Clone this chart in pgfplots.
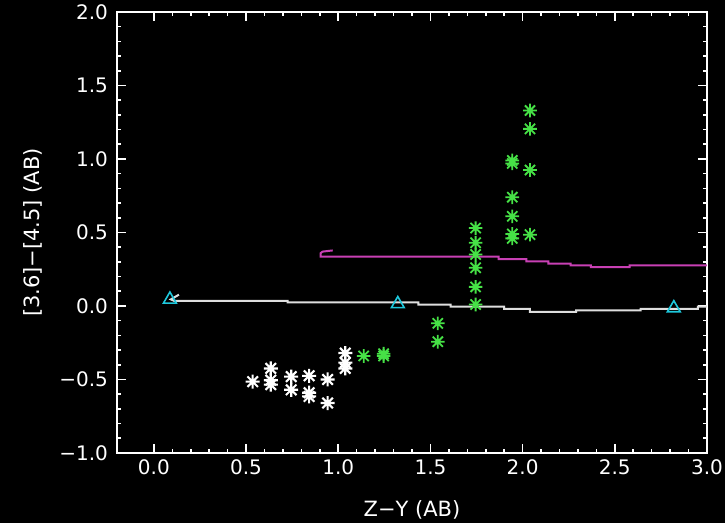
\documentclass[border=0pt]{standalone}
\usepackage{pgfplots}
\pgfplotsset{compat=1.18}
\usepackage{fontspec}
\setmainfont{DejaVu Sans}

\definecolor{trackgray}{RGB}{222,222,222}
\definecolor{trackmag}{RGB}{200,64,180}
\definecolor{stargreen}{RGB}{70,225,70}
\definecolor{tricyan}{RGB}{30,200,220}

% eight-armed asterisk
\pgfdeclareplotmark{ast8}{%
  \pgfpathmoveto{\pgfqpoint{-\pgfplotmarksize}{0pt}}%
  \pgfpathlineto{\pgfqpoint{\pgfplotmarksize}{0pt}}%
  \pgfpathmoveto{\pgfqpoint{0pt}{-\pgfplotmarksize}}%
  \pgfpathlineto{\pgfqpoint{0pt}{\pgfplotmarksize}}%
  \pgfpathmoveto{\pgfqpoint{-0.75\pgfplotmarksize}{-0.75\pgfplotmarksize}}%
  \pgfpathlineto{\pgfqpoint{0.75\pgfplotmarksize}{0.75\pgfplotmarksize}}%
  \pgfpathmoveto{\pgfqpoint{-0.75\pgfplotmarksize}{0.75\pgfplotmarksize}}%
  \pgfpathlineto{\pgfqpoint{0.75\pgfplotmarksize}{-0.75\pgfplotmarksize}}%
  \pgfusepathqstroke}

\begin{document}
\begin{tikzpicture}
\fill[black] (-58.5pt,-35pt) rectangle (304pt,226.5pt);
\begin{axis}[
  scale only axis,
  width=295pt, height=220.5pt,
  xmin=-0.2, xmax=3, ymin=-1, ymax=2,
  xtick={0,0.5,1,1.5,2,2.5,3},
  xticklabels={0.0,0.5,1.0,1.5,2.0,2.5,3.0},
  ytick={-1,-0.5,0,0.5,1,1.5,2},
  yticklabels={−1.0,−0.5,0.0,0.5,1.0,1.5,2.0},
  minor x tick num=4, minor y tick num=4,
  major tick length=4.5pt, minor tick length=2.2pt,
  axis line style={white, line width=1pt},
  tick style={white, line width=0.8pt},
  ticklabel style={white, font=\fontsize{10}{12}\selectfont},
  yticklabel style={xshift=-1pt},
  label style={white, font=\fontsize{10.5}{12}\selectfont},
  xlabel={Z−Y (AB)},
  ylabel={[3.6]−[4.5] (AB)},
  xlabel style={at={(axis description cs:0.5,0)}, anchor=center, yshift=-28.5pt},
  ylabel style={at={(axis description cs:-0.1424,0.5)}, anchor=center},
  clip=false,
]
% model tracks
\addplot[trackgray, line width=1pt, mark=none] coordinates {
  (0.136,0.077) (0.092,0.045) (0.11,0.035) (0.725,0.035) (0.725,0.025)
  (1.435,0.025) (1.435,0.01) (1.61,0.01) (1.61,-0.005) (1.90,-0.005)
  (1.90,-0.02) (2.04,-0.02) (2.04,-0.04) (2.29,-0.04) (2.29,-0.03)
  (2.64,-0.03) (2.64,-0.02) (2.95,-0.02) (2.95,-0.005) (3.0,-0.005)
};
\addplot[trackmag, line width=1pt, mark=none] coordinates {
  (0.97,0.378) (0.915,0.37) (0.905,0.36) (0.905,0.335) (1.87,0.335)
  (1.87,0.318) (2.02,0.318) (2.02,0.303) (2.14,0.303) (2.14,0.289)
  (2.26,0.289) (2.26,0.277) (2.37,0.277) (2.37,0.264) (2.58,0.264)
  (2.58,0.277) (3.0,0.277)
};
% redshift markers on the track
\addplot[only marks, mark=triangle, mark size=3.7pt, tricyan, line width=0.8pt]
  coordinates {(0.087,0.045) (1.323,0.014) (2.82,-0.014)};
% sources
\addplot[only marks, mark=ast8, mark size=3.5pt, white, line width=1.05pt]
  coordinates {
  (0.536,-0.515) (0.634,-0.425) (0.634,-0.505) (0.634,-0.535)
  (0.745,-0.48) (0.745,-0.57) (0.842,-0.475) (0.842,-0.59) (0.842,-0.615)
  (0.942,-0.50) (0.942,-0.66) (1.038,-0.32) (1.038,-0.385) (1.038,-0.425)
};
\addplot[only marks, mark=ast8, mark size=3.4pt, stargreen, line width=0.9pt]
  coordinates {
  (1.138,-0.34) (1.246,-0.325) (1.246,-0.34) (1.54,-0.118) (1.54,-0.243)
  (1.745,0.53) (1.745,0.43) (1.745,0.35) (1.745,0.26) (1.745,0.13) (1.745,0.01)
  (1.944,0.99) (1.944,0.97) (1.944,0.74) (1.944,0.61) (1.944,0.49) (1.944,0.46)
  (2.04,1.33) (2.04,1.205) (2.04,0.925) (2.04,0.485)
};
\end{axis}
\pgfresetboundingbox
\path (-58.5pt,-35pt) rectangle (304pt,226.5pt);
\end{tikzpicture}
\end{document}
